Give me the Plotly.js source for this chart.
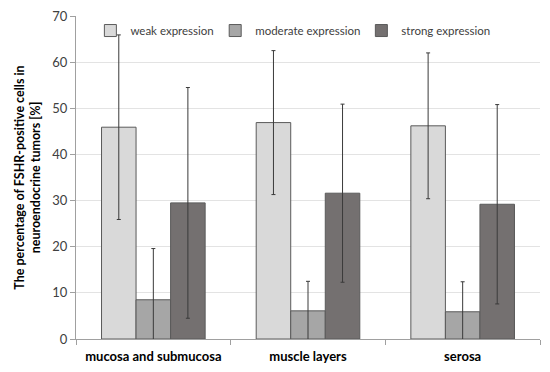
<!DOCTYPE html>
<html>
<head>
<meta charset="utf-8">
<script src="https://cdn.plot.ly/plotly-3.0.1.min.js"></script>
<style>html,body{margin:0;padding:0;background:#fff}#chart{width:550px;height:372px}</style>
</head>
<body>
<div id="chart"></div>
<script>
const categories = ["mucosa and submucosa", "muscle layers", "serosa"];
const seriesNames = ["weak expression", "moderate expression", "strong expression"];
const weakValues = [45.9, 46.9, 46.2];
const weakErrors = [20.0, 15.6, 15.8];
const moderateValues = [8.5, 6.1, 5.9];
const moderateErrors = [11.1, 6.4, 6.5];
const strongValues = [29.5, 31.6, 29.2];
const strongErrors = [25.0, 19.3, 21.6];
const yTicks = [0, 10, 20, 30, 40, 50, 60, 70];

const colors = ["#d9d9d9", "#a6a6a6", "#747070"];
const valueSets = [weakValues, moderateValues, strongValues];
const errorSets = [weakErrors, moderateErrors, strongErrors];
const legendIds = ["legend", "legend2", "legend3"];

const font = "Lato, 'Open Sans', sans-serif";

const data = seriesNames.map((name, i) => ({
  type: "bar",
  name: name,
  x: categories,
  y: valueSets[i],
  legend: legendIds[i],
  marker: {color: colors[i], line: {color: "#5a5a5a", width: 1}},
  error_y: {type: "data", array: errorSets[i], visible: true, color: "#3a3a3a", thickness: 1, width: 2}
}));

const legendBase = {
  orientation: "h", yanchor: "middle", y: 0.955, xanchor: "left",
  bgcolor: "rgba(0,0,0,0)", font: {family: font, size: 11.5, color: "#404040"},
  itemwidth: 30, tracegroupgap: 0
};

const layout = {
  width: 550, height: 372,
  margin: {l: 76, r: 10, t: 16, b: 33},
  paper_bgcolor: "#fff", plot_bgcolor: "#fff",
  barmode: "group", bargap: 0.33, bargroupgap: 0,
  font: {family: font, color: "#404040"},
  showlegend: true,
  legend: Object.assign({}, legendBase, {x: 0.031}),
  legend2: Object.assign({}, legendBase, {x: 0.30}),
  legend3: Object.assign({}, legendBase, {x: 0.615}),
  xaxis: {
    type: "category", tickson: "boundaries", ticks: "outside", ticklen: 5, tickcolor: "#a0a0a0",
    showline: true, linecolor: "#a0a0a0", linewidth: 1, showgrid: false, ticklabelstandoff: 5,
    tickfont: {family: font, size: 13, color: "#000", weight: "bold"}
  },
  yaxis: {
    range: [0, 70], tickvals: yTicks, ticks: "outside", ticklen: 5, tickcolor: "#a0a0a0",
    showline: true, linecolor: "#a0a0a0", linewidth: 1,
    showgrid: true, gridcolor: "#e3e3e3", gridwidth: 1, zeroline: false,
    tickfont: {family: font, size: 13, color: "#404040"},
    title: {text: "The percentage of FSHR-positive cells in<br>neuroendocrine tumors [%]", standoff: 8,
      font: {family: font, size: 12.5, color: "#000", weight: "bold"}}
  }
};

Plotly.newPlot("chart", data, layout, {displayModeBar: false, staticPlot: true});
</script>
</body>
</html>
